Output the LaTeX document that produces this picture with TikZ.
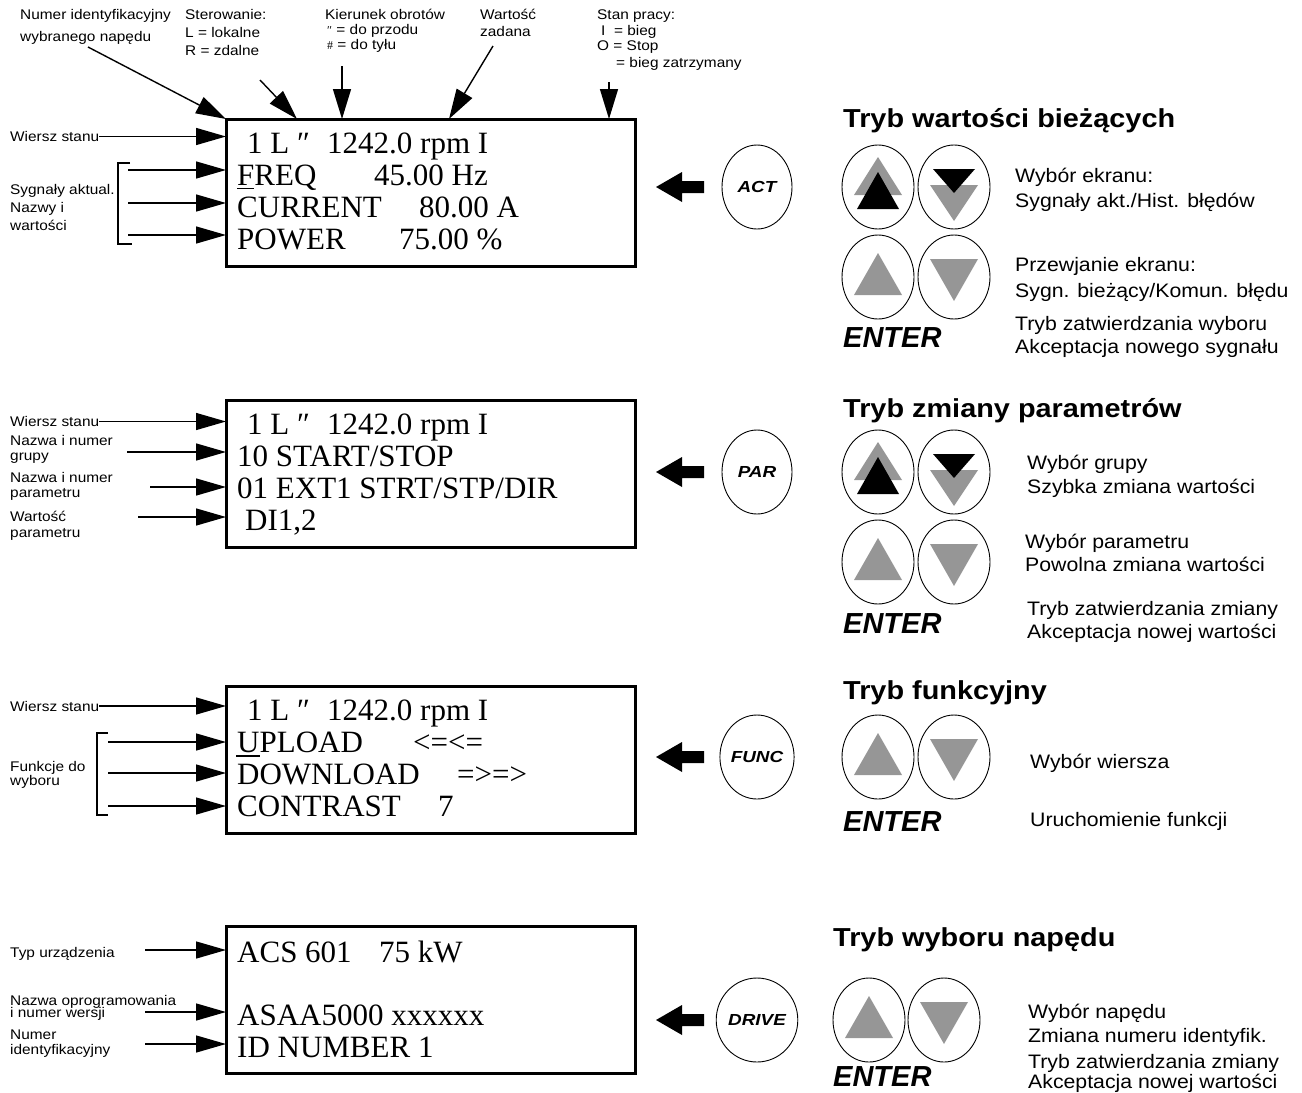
\documentclass[tikz,border=0pt]{standalone}
\usepackage{fontspec}
\setmainfont{Liberation Sans}
\newfontfamily\labf[FakeStretch=1.1]{Liberation Sans}
\newfontfamily\descf[FakeStretch=1.09]{Liberation Sans}
\newfontfamily\ttlf[FakeStretch=1.11]{Liberation Sans}
\newfontfamily\keyf[FakeStretch=1.18]{Liberation Sans}
\newfontfamily\dispf{Liberation Serif}
\usetikzlibrary{arrows.meta,shapes.geometric}
\definecolor{tgray}{RGB}{150,150,150}
\newcommand\btntri[5]{\fill[#5] ([shift={(-#4,#3)}]#1.center) -- ([shift={(#4,#3)}]#1.center) -- ([shift={(0,#2)}]#1.center) -- cycle;}
\newcommand\blockarrow[1]{\fill ([shift={(-101,0)}]#1.center) -- ([shift={(-75,-15)}]#1.center) -- ([shift={(-75,-6)}]#1.center) -- ([shift={(-53,-6)}]#1.center) -- ([shift={(-53,6)}]#1.center) -- ([shift={(-75,6)}]#1.center) -- ([shift={(-75,15)}]#1.center) -- cycle;}
\begin{document}
\begin{tikzpicture}[x=1pt,y=-1pt,
  lab/.style={font=\labf\fontsize{14}{15}\selectfont, inner sep=0pt, anchor=base west},
  desc/.style={font=\descf\fontsize{19.5}{22}\selectfont, inner sep=0pt, anchor=base west},
  ttl/.style={font=\ttlf\bfseries\fontsize{26}{28}\selectfont, inner sep=0pt, anchor=base west},
  ent/.style={font=\bfseries\itshape\fontsize{29}{30}\selectfont, inner sep=0pt, anchor=base west},
  dsp/.style={font=\dispf\fontsize{31}{32}\selectfont, inner sep=0pt, anchor=base west},
  lcd/.style={draw, line width=3pt, minimum width=409pt, minimum height=147pt, anchor=north west, inner sep=0pt, outer sep=0pt},
  btn/.style={draw, ellipse, line width=0.9pt, minimum width=72pt, minimum height=84pt, inner sep=0pt},
  key/.style={btn, minimum width=70pt, font=\keyf\bfseries\itshape\fontsize{16}{16}\selectfont},
  arr/.style={line width=1.4pt, -{Triangle[length=30pt,width=17pt]}},
  arrT/.style={line width=1.4pt, -{Triangle[length=30pt,width=18pt]}},
  brk/.style={line width=1.4pt}
]
\useasboundingbox (0,0) rectangle (1302,1093);

% ---------------- displays
\node[lcd] (d1) at (226,119) {};
\node[lcd] (d2) at (226,400) {};
\node[lcd] (d3) at (226,686) {};
\node[lcd] (d4) at (226,926) {};

% display 1
\node[dsp] (t11a) at (247,153) {1 L ″};
\node[dsp] (t11b) at (327,153) {1242.0 rpm I};
\node[dsp] (t12a) at (237,185) {FREQ};
\node[dsp] (t12b) at (374,185) {45.00 Hz};
\node[dsp] (t13a) at (237,217) {CURRENT};
\node[dsp] (t13b) at (419,217) {80.00 A};
\node[dsp] (t14a) at (237,249) {POWER};
\node[dsp] (t14b) at (399,249) {75.00 \%};
\draw[line width=1.5pt] (237,188.5) -- (254,188.5);

% display 2
\node[dsp] (t21a) at (247,434) {1 L ″};
\node[dsp] (t21b) at (327,434) {1242.0 rpm I};
\node[dsp] (t22) at (237,466) {10 START/STOP};
\node[dsp] (t23) at (237,498) {01 EXT1 STRT/STP/DIR};
\node[dsp] (t24) at (245,530) {DI1,2};

% display 3
\node[dsp] (t31a) at (247,720) {1 L ″};
\node[dsp] (t31b) at (327,720) {1242.0 rpm I};
\node[dsp] (t32a) at (237,752) {UPLOAD};
\node[dsp] (t32b) at (413,752) {<=<=};
\node[dsp] (t33a) at (237,784) {DOWNLOAD};
\node[dsp] (t33b) at (457,784) {=>=>};
\node[dsp] (t34a) at (237,816) {CONTRAST};
\node[dsp] (t34b) at (438,816) {7};
\draw[line width=1.5pt] (236,756) -- (260,756);

% display 4
\node[dsp] (t41a) at (237,962) {ACS 601};
\node[dsp] (t41b) at (379,962) {75 kW};
\node[dsp] (t42) at (237,1025) {ASAA5000 xxxxxx};
\node[dsp] (t43) at (237,1057) {ID NUMBER 1};

% ---------------- top annotations
\node[lab] (n1a) at (20,19) {Numer identyfikacyjny};
\node[lab] (n1b) at (20,41) {wybranego napędu};
\node[lab] (n2a) at (185,19) {Sterowanie:};
\node[lab] (n2b) at (185,37) {L = lokalne};
\node[lab] (n2c) at (185,55) {R = zdalne};
\node[lab] (n3a) at (325,19) {Kierunek obrotów};
\node[lab] (n3b) at (327,34) {{\dispf\fontsize{12}{12}\selectfont ″} = do przodu};
\node[lab] (n3c) at (327,49) {{\dispf\fontsize{12}{12}\selectfont \#} = do tyłu};
\node[lab] (n4a) at (480,19) {Wartość};
\node[lab] (n4b) at (480,36) {zadana};
\node[lab] (n5a) at (597,19) {Stan pracy:};
\node[lab] (n5b) at (601,35) {I\ \ = bieg};
\node[lab] (n5c) at (597,50) {O = Stop};
\node[lab] (n5d) at (616,67) {= bieg zatrzymany};

\coordinate (s1) at (88,47);
\coordinate (s2) at (260,80);
\coordinate (s3) at (342,66);
\coordinate (s4) at (493,46);
\coordinate (s5) at (609,82);
\draw[arrT] (s1) -- (d1.north west);
\draw[arrT] (s2) -- ([xshift=71pt]d1.north west);
\draw[arrT] (s3) -- ([xshift=116pt]d1.north west);
\draw[arrT] (s4) -- ([xshift=223pt]d1.north west);
\draw[arrT] (s5) -- ([xshift=383pt]d1.north west);

% ---------------- left labels, section 1
\node[lab] (w1) at (10,141.5) {Wiersz stanu};
\draw[arr] (w1.east) -- (w1.east -| d1.west);
\node[lab] (g1a) at (10,194) {Sygnały aktual.};
\node[lab] (g1b) at (10,212) {Nazwy i};
\node[lab] (g1c) at (10,230) {wartości};
\draw[brk] (130,163) -- (118,163) -- (118,244) -- (132,244);
\coordinate (c12) at (128,170);
\coordinate (c13) at (128,203);
\coordinate (c14) at (128,235);
\draw[arr] (c12) -- (c12 -| d1.west);
\draw[arr] (c13) -- (c13 -| d1.west);
\draw[arr] (c14) -- (c14 -| d1.west);

% section 2
\node[lab] (w2) at (10,426.5) {Wiersz stanu};
\draw[arr] (w2.east) -- (w2.east -| d2.west);
\node[lab] (g2a) at (10,445) {Nazwa i numer};
\node[lab] (g2b) at (10,460) {grupy};
\node[lab] (g2c) at (10,482) {Nazwa i numer};
\node[lab] (g2d) at (10,497) {parametru};
\node[lab] (g2e) at (10,521) {Wartość};
\node[lab] (g2f) at (10,537) {parametru};
\coordinate (c22) at (127,452);
\coordinate (c23) at (150,487);
\coordinate (c24) at (138,517);
\draw[arr] (c22) -- (c22 -| d2.west);
\draw[arr] (c23) -- (c23 -| d2.west);
\draw[arr] (c24) -- (c24 -| d2.west);

% section 3
\node[lab] (w3) at (10,711) {Wiersz stanu};
\draw[arr] (w3.east) -- (w3.east -| d3.west);
\node[lab] (g3a) at (10,771) {Funkcje do};
\node[lab] (g3b) at (10,785) {wyboru};
\draw[brk] (108,733) -- (97,733) -- (97,815) -- (108,815);
\coordinate (c32) at (108,742);
\coordinate (c33) at (108,773);
\coordinate (c34) at (108,806);
\draw[arr] (c32) -- (c32 -| d3.west);
\draw[arr] (c33) -- (c33 -| d3.west);
\draw[arr] (c34) -- (c34 -| d3.west);

% section 4
\node[lab] (g4a) at (10,957) {Typ urządzenia};
\node[lab] (g4b) at (10,1005) {Nazwa oprogramowania};
\node[lab] (g4c) at (10,1017) {i numer wersji};
\node[lab] (g4d) at (10,1039) {Numer};
\node[lab] (g4e) at (10,1054) {identyfikacyjny};
\coordinate (c41) at (145,950);
\coordinate (c42) at (145,1012);
\coordinate (c43) at (145,1044);
\draw[arr] (c41) -- (c41 -| d4.west);
\draw[arr] (c42) -- (c42 -| d4.west);
\draw[arr] (c43) -- (c43 -| d4.west);

% ---------------- keys and block arrows
\node[key] (kact) at (757,187) {ACT};
\node[key] (kpar) at (757,472) {PAR};
\node[key] (kfunc) at (757,757) {FUNC};
\node[key] (kdrive) at (757,1020) {DRIVE};
\blockarrow{kact}
\blockarrow{kpar}
\blockarrow{kfunc}
\blockarrow{kdrive}

% ---------------- section 1 right
\node[ttl] (h1) at (843,127) {Tryb wartości bieżących};
\node[btn] (b11l) at (878,187) {};
\node[btn] (b11r) at (954,187) {};
\node[btn] (b12l) at (878,277) {};
\node[btn] (b12r) at (954,277) {};
\btntri{b11l}{-30}{8}{24}{tgray}
\btntri{b11l}{-15}{22}{21}{black}
\btntri{b11r}{34}{-2}{24}{tgray}
\btntri{b11r}{6}{-18}{21}{black}
\btntri{b12l}{-24}{18}{24}{tgray}
\btntri{b12r}{24}{-18}{24}{tgray}
\node[ent] (e1) at (843,347) {ENTER};
\node[desc] (r11) at (1015,182.5) {Wybór ekranu:};
\node[desc] (r12) at (1015,207.5) {Sygnały akt./Hist. błędów};
\node[desc] (r13) at (1015,271.5) {Przewjanie ekranu:};
\node[desc] (r14) at (1015,297.5) {Sygn. bieżący/Komun. błędu};
\node[desc] (r15) at (1015,330.5) {Tryb zatwierdzania wyboru};
\node[desc] (r16) at (1015,353.5) {Akceptacja nowego sygnału};

% ---------------- section 2 right
\node[ttl] (h2) at (843,417) {Tryb zmiany parametrów};
\node[btn] (b21l) at (878,472) {};
\node[btn] (b21r) at (954,472) {};
\node[btn] (b22l) at (878,562) {};
\node[btn] (b22r) at (954,562) {};
\btntri{b21l}{-30}{8}{24}{tgray}
\btntri{b21l}{-15}{22}{21}{black}
\btntri{b21r}{34}{-2}{24}{tgray}
\btntri{b21r}{6}{-18}{21}{black}
\btntri{b22l}{-24}{18}{24}{tgray}
\btntri{b22r}{24}{-18}{24}{tgray}
\node[ent] (e2) at (843,633) {ENTER};
\node[desc] (r21) at (1027,469) {Wybór grupy};
\node[desc] (r22) at (1027,493) {Szybka zmiana wartości};
\node[desc] (r23) at (1025,548) {Wybór parametru};
\node[desc] (r24) at (1025,571) {Powolna zmiana wartości};
\node[desc] (r25) at (1027,615) {Tryb zatwierdzania zmiany};
\node[desc] (r26) at (1027,638) {Akceptacja nowej wartości};

% ---------------- section 3 right
\node[ttl] (h3) at (843,699) {Tryb funkcyjny};
\node[btn] (b31l) at (878,757) {};
\node[btn] (b31r) at (954,757) {};
\btntri{b31l}{-24}{18}{24}{tgray}
\btntri{b31r}{24}{-18}{24}{tgray}
\node[ent] (e3) at (843,831) {ENTER};
\node[desc] (r31) at (1030,768) {Wybór wiersza};
\node[desc] (r32) at (1030,826) {Uruchomienie funkcji};

% ---------------- section 4 right
\node[ttl] (h4) at (833,946) {Tryb wyboru napędu};
\node[btn] (b41l) at (869,1020) {};
\node[btn] (b41r) at (944,1020) {};
\btntri{b41l}{-24}{18}{24}{tgray}
\btntri{b41r}{24}{-18}{24}{tgray}
\node[ent] (e4) at (833,1086) {ENTER};
\node[desc] (r41) at (1028,1018) {Wybór napędu};
\node[desc] (r42) at (1028,1042) {Zmiana numeru identyfik.};
\node[desc] (r43) at (1028,1068) {Tryb zatwierdzania zmiany};
\node[desc] (r44) at (1028,1088) {Akceptacja nowej wartości};
\end{tikzpicture}
\end{document}
